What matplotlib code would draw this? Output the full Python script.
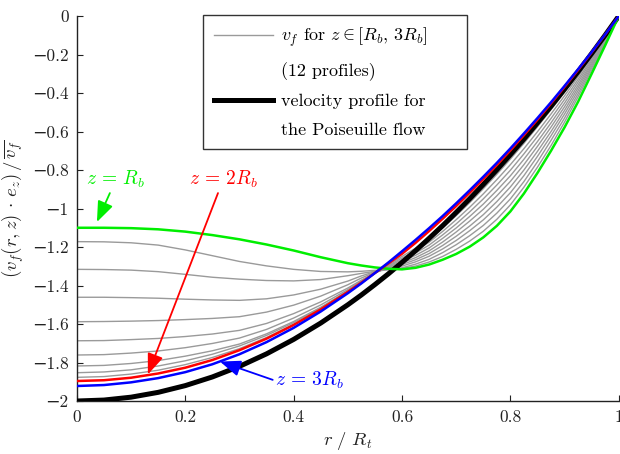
import matplotlib
matplotlib.use("Agg")
import matplotlib.pyplot as plt
from matplotlib.lines import Line2D

plt.rcParams['font.family'] = ['cmr10', 'DejaVu Serif']
plt.rcParams['mathtext.fontset'] = 'cm'
plt.rcParams['axes.formatter.use_mathtext'] = True
plt.rcParams['axes.unicode_minus'] = True

r = [0.00, 0.05, 0.10, 0.15, 0.20, 0.25, 0.30, 0.35, 0.40, 0.45,
     0.500, 0.525, 0.550, 0.575, 0.600, 0.625, 0.650, 0.675, 0.700, 0.725,
     0.750, 0.775, 0.800, 0.825, 0.850, 0.875, 0.900, 0.925, 0.950, 0.975, 1.000]

poiseuille = [-2.000, -1.995, -1.980, -1.955, -1.920, -1.875, -1.820, -1.755, -1.680, -1.595,
              -1.500, -1.449, -1.395, -1.339, -1.280, -1.219, -1.155, -1.089, -1.020, -0.949,
              -0.875, -0.799, -0.720, -0.639, -0.555, -0.469, -0.380, -0.289, -0.195, -0.099, 0.000]

green_Rb = [-1.100, -1.100, -1.102, -1.108, -1.120, -1.138, -1.160, -1.187, -1.218, -1.253,
            -1.284, -1.296, -1.306, -1.313, -1.316, -1.308, -1.291, -1.266, -1.236, -1.198,
            -1.150, -1.090, -1.015, -0.922, -0.815, -0.700, -0.578, -0.445, -0.300, -0.152, 0.000]

red_2Rb = [-1.896, -1.892, -1.879, -1.857, -1.827, -1.787, -1.736, -1.676, -1.605, -1.524,
           -1.433, -1.385, -1.335, -1.285, -1.235, -1.178, -1.117, -1.053, -0.987, -0.918,
           -0.847, -0.774, -0.698, -0.619, -0.538, -0.454, -0.368, -0.280, -0.189, -0.096, 0.000]

blue_3Rb = [-1.922, -1.917, -1.903, -1.881, -1.850, -1.809, -1.757, -1.694, -1.620, -1.535,
            -1.440, -1.389, -1.335, -1.280, -1.222, -1.163, -1.102, -1.039, -0.973, -0.905,
            -0.835, -0.763, -0.688, -0.610, -0.530, -0.448, -0.363, -0.276, -0.187, -0.095, 0.000]

grey_1 = [-1.172, -1.173, -1.178, -1.190, -1.215, -1.245, -1.275, -1.298, -1.316, -1.327,
          -1.329, -1.326, -1.321, -1.317, -1.311, -1.299, -1.278, -1.249, -1.212, -1.169,
          -1.118, -1.056, -0.981, -0.889, -0.785, -0.673, -0.551, -0.419, -0.281, -0.142, 0.000]
grey_2 = [-1.316, -1.317, -1.320, -1.328, -1.342, -1.357, -1.367, -1.374, -1.376, -1.369,
          -1.349, -1.337, -1.326, -1.318, -1.308, -1.289, -1.264, -1.229, -1.188, -1.141,
          -1.088, -1.024, -0.950, -0.860, -0.757, -0.646, -0.530, -0.403, -0.270, -0.136, 0.000]
grey_3 = [-1.461, -1.461, -1.463, -1.466, -1.471, -1.475, -1.477, -1.469, -1.449, -1.419,
          -1.377, -1.350, -1.328, -1.313, -1.299, -1.277, -1.248, -1.210, -1.166, -1.115,
          -1.059, -0.993, -0.918, -0.829, -0.729, -0.622, -0.509, -0.387, -0.260, -0.131, 0.000]
grey_4 = [-1.588, -1.587, -1.585, -1.582, -1.577, -1.571, -1.562, -1.538, -1.502, -1.455,
          -1.396, -1.361, -1.331, -1.309, -1.291, -1.266, -1.234, -1.192, -1.144, -1.091,
          -1.032, -0.964, -0.888, -0.800, -0.703, -0.600, -0.490, -0.372, -0.250, -0.126, 0.000]
grey_5 = [-1.687, -1.686, -1.681, -1.675, -1.665, -1.652, -1.633, -1.597, -1.546, -1.485,
          -1.413, -1.372, -1.334, -1.306, -1.283, -1.255, -1.220, -1.174, -1.122, -1.065,
          -1.004, -0.934, -0.859, -0.772, -0.677, -0.577, -0.471, -0.358, -0.241, -0.121, 0.000]
grey_6 = [-1.761, -1.759, -1.751, -1.740, -1.723, -1.701, -1.673, -1.628, -1.569, -1.501,
          -1.421, -1.376, -1.335, -1.303, -1.275, -1.243, -1.205, -1.155, -1.101, -1.041,
          -0.977, -0.906, -0.830, -0.744, -0.652, -0.555, -0.452, -0.343, -0.231, -0.116, 0.000]
grey_7 = [-1.818, -1.815, -1.805, -1.790, -1.767, -1.739, -1.704, -1.651, -1.587, -1.513,
          -1.428, -1.379, -1.335, -1.299, -1.266, -1.231, -1.190, -1.137, -1.080, -1.017,
          -0.950, -0.878, -0.801, -0.716, -0.626, -0.532, -0.433, -0.329, -0.222, -0.111, 0.000]
grey_8 = [-1.853, -1.849, -1.838, -1.818, -1.791, -1.757, -1.714, -1.659, -1.593, -1.517,
          -1.430, -1.380, -1.335, -1.295, -1.258, -1.219, -1.175, -1.119, -1.058, -0.993,
          -0.924, -0.850, -0.772, -0.689, -0.601, -0.509, -0.414, -0.315, -0.212, -0.107, 0.000]
grey_9 = [-1.877, -1.873, -1.860, -1.840, -1.811, -1.774, -1.728, -1.670, -1.602, -1.523,
          -1.433, -1.382, -1.335, -1.291, -1.249, -1.206, -1.160, -1.101, -1.037, -0.969,
          -0.897, -0.822, -0.743, -0.661, -0.575, -0.486, -0.395, -0.300, -0.203, -0.102, 0.000]

grey_profiles = [grey_1, grey_2, grey_3, grey_4, grey_5, grey_6, grey_7, grey_8, grey_9]

x_ticks = [0, 0.2, 0.4, 0.6, 0.8, 1]
x_tick_labels = ['0', '0.2', '0.4', '0.6', '0.8', '1']
y_ticks = [-2, -1.8, -1.6, -1.4, -1.2, -1, -0.8, -0.6, -0.4, -0.2, 0]
y_tick_labels = ['−2', '−1.8', '−1.6', '−1.4', '−1.2', '−1', '−0.8', '−0.6', '−0.4', '−0.2', '0']

fig = plt.figure(figsize=(6.2, 4.54), dpi=100)
ax = fig.add_axes([0.124, 0.1167, 0.874, 0.848])

GREY = '#9a9a9a'
for g in grey_profiles:
    ax.plot(r, g, color=GREY, lw=1.0, zorder=2)
ax.plot(r, poiseuille, color='black', lw=3.6, zorder=3, solid_capstyle='butt')
ax.plot(r, green_Rb, color='#00ee00', lw=1.8, zorder=4)
ax.plot(r, red_2Rb, color='#ff0000', lw=1.8, zorder=5)
ax.plot(r, blue_3Rb, color='#0000ff', lw=1.8, zorder=6)

ax.set_xlim(0, 1)
ax.set_ylim(-2, 0)
ax.set_xticks(x_ticks)
ax.set_xticklabels(x_tick_labels)
ax.set_yticks(y_ticks)
ax.set_yticklabels(y_tick_labels)
ax.tick_params(direction='in', length=4, labelsize=12.5, top=False, right=False,
               colors='#222222', pad=6)
for s in ['top', 'right']:
    ax.spines[s].set_visible(False)
for s in ['left', 'bottom']:
    ax.spines[s].set_linewidth(1.0)
    ax.spines[s].set_color('#222222')

ax.set_xlabel(r'$r\ /\ R_t$', fontsize=13.5, color='#222222', labelpad=4)
ax.set_ylabel(r'$(v_f(r,z)\,\cdot\,e_z)\,/\,\overline{v_f}$', fontsize=13.5,
              color='#222222', labelpad=4)

# legend
handles = [Line2D([], [], color=GREY, lw=1.0),
           Line2D([], [], color='none', lw=0),
           Line2D([], [], color='black', lw=3.6),
           Line2D([], [], color='none', lw=0)]
labels = [r'$v_f$ for $z \in [R_b,\, 3R_b]$', '(12 profiles)',
          'velocity profile for', 'the Poiseuille flow']
leg = ax.legend(handles, labels, loc='upper left',
                bbox_to_anchor=(0.2325, 0.66, 0.487, 0.343), mode='expand',
                fontsize=13, frameon=True, fancybox=False, edgecolor='black',
                handlelength=3.3, handletextpad=0.45, labelspacing=0.72,
                borderpad=0.6, borderaxespad=0)
leg.get_frame().set_linewidth(1.0)

# annotations
arrow_kw = dict(arrowstyle='-|>,head_length=0.9,head_width=0.35', lw=1.3,
                shrinkA=0, shrinkB=0, mutation_scale=14)
ax.annotate(r'$z\,=\,R_b$', xy=(0.037, -1.07), xytext=(0.072, -0.85),
            color='#00ee00', fontsize=14, ha='center', va='center',
            arrowprops=dict(color='#00ee00', **arrow_kw),
            zorder=7)
ax.annotate(r'$z\,=\,2R_b$', xy=(0.131, -1.862), xytext=(0.27, -0.85),
            color='#ff0000', fontsize=14, ha='center', va='center',
            arrowprops=dict(color='#ff0000', **arrow_kw), zorder=7)
ax.annotate(r'$z\,=\,3R_b$', xy=(0.264, -1.795), xytext=(0.43, -1.895),
            color='#0000ff', fontsize=14, ha='center', va='center',
            arrowprops=dict(color='#0000ff', relpos=(0.0, 0.5), **arrow_kw), zorder=7)

fig.savefig('out.png', dpi=100)
